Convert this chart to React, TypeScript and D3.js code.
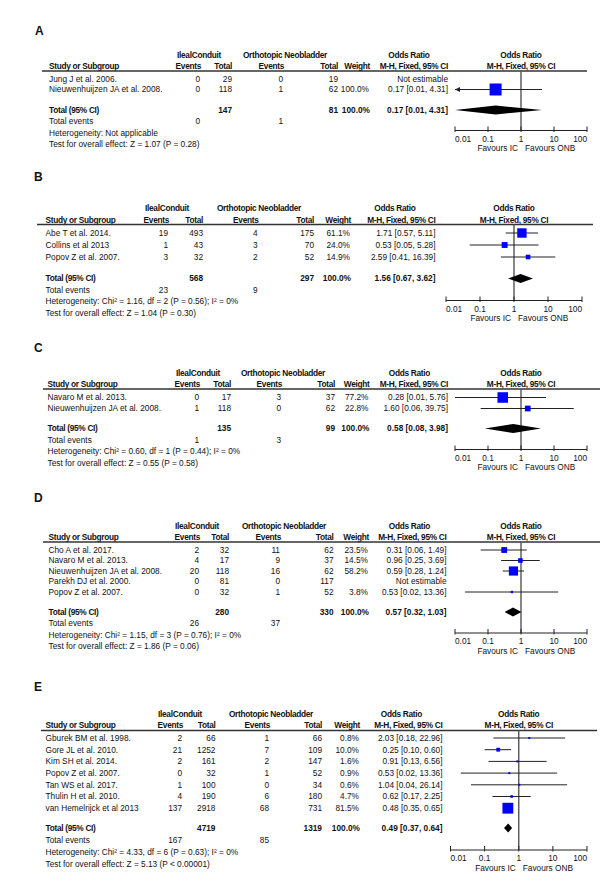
import React from 'react';
import * as d3 from 'd3';

// ---------- Panel A ----------
const studiesA = ['Jung J et al. 2006.', 'Nieuwenhuijzen JA et al. 2008.'];
const icEventsA = [0, 0];
const icTotalA = [29, 118];
const onbEventsA = [0, 1];
const onbTotalA = [19, 62];
const weightA = [NaN, 100.0];
const orA = [NaN, 0.17];
const loA = [NaN, 0.007];
const hiA = [NaN, 4.31];
const totalsA = [147, 81];
const totalOrA = [0.17, 0.01, 4.31];
const totalEventsA = [0, 1];
const hetA = 'Heterogeneity: Not applicable';
const testA = 'Test for overall effect: Z = 1.07 (P = 0.28)';

// ---------- Panel B ----------
const studiesB = ['Abe T et al. 2014.', 'Collins et al 2013', 'Popov Z et al. 2007.'];
const icEventsB = [19, 1, 3];
const icTotalB = [493, 43, 32];
const onbEventsB = [4, 3, 2];
const onbTotalB = [175, 70, 52];
const weightB = [61.1, 24.0, 14.9];
const orB = [1.71, 0.53, 2.59];
const loB = [0.57, 0.05, 0.41];
const hiB = [5.11, 5.28, 16.39];
const totalsB = [568, 297];
const totalOrB = [1.56, 0.67, 3.62];
const totalEventsB = [23, 9];
const hetB = 'Heterogeneity: Chi² = 1.16, df = 2 (P = 0.56); I² = 0%';
const testB = 'Test for overall effect: Z = 1.04 (P = 0.30)';

// ---------- Panel C ----------
const studiesC = ['Navaro M et al. 2013.', 'Nieuwenhuijzen JA et al. 2008.'];
const icEventsC = [0, 1];
const icTotalC = [17, 118];
const onbEventsC = [3, 0];
const onbTotalC = [37, 62];
const weightC = [77.2, 22.8];
const orC = [0.28, 1.60];
const loC = [0.01, 0.06];
const hiC = [5.76, 39.75];
const totalsC = [135, 99];
const totalOrC = [0.58, 0.08, 3.98];
const totalEventsC = [1, 3];
const hetC = 'Heterogeneity: Chi² = 0.60, df = 1 (P = 0.44); I² = 0%';
const testC = 'Test for overall effect: Z = 0.55 (P = 0.58)';

// ---------- Panel D ----------
const studiesD = ['Cho A et al. 2017.', 'Navaro M et al. 2013.', 'Nieuwenhuijzen JA et al. 2008.', 'Parekh DJ et al. 2000.', 'Popov Z et al. 2007.'];
const icEventsD = [2, 4, 20, 0, 0];
const icTotalD = [32, 17, 118, 81, 32];
const onbEventsD = [11, 9, 16, 0, 1];
const onbTotalD = [62, 37, 62, 117, 52];
const weightD = [23.5, 14.5, 58.2, NaN, 3.8];
const orD = [0.31, 0.96, 0.59, NaN, 0.53];
const loD = [0.06, 0.25, 0.28, NaN, 0.02];
const hiD = [1.49, 3.69, 1.24, NaN, 13.36];
const totalsD = [280, 330];
const totalOrD = [0.57, 0.32, 1.03];
const totalEventsD = [26, 37];
const hetD = 'Heterogeneity: Chi² = 1.15, df = 3 (P = 0.76); I² = 0%';
const testD = 'Test for overall effect: Z = 1.86 (P = 0.06)';

// ---------- Panel E ----------
const studiesE = ['Gburek BM et al. 1998.', 'Gore JL et al. 2010.', 'Kim SH et al. 2014.', 'Popov Z et al. 2007.', 'Tan WS et al. 2017.', 'Thulin H et al. 2010.', 'van Hemelrijck et al 2013'];
const icEventsE = [2, 21, 2, 0, 1, 4, 137];
const icTotalE = [66, 1252, 161, 32, 100, 190, 2918];
const onbEventsE = [1, 7, 2, 1, 0, 6, 68];
const onbTotalE = [66, 109, 147, 52, 34, 180, 731];
const weightE = [0.8, 10.0, 1.6, 0.9, 0.6, 4.7, 81.5];
const orE = [2.03, 0.25, 0.91, 0.53, 1.04, 0.62, 0.48];
const loE = [0.18, 0.10, 0.13, 0.02, 0.04, 0.17, 0.35];
const hiE = [22.96, 0.60, 6.56, 13.36, 26.14, 2.25, 0.65];
const totalsE = [4719, 1319];
const totalOrE = [0.49, 0.37, 0.64];
const totalEventsE = [167, 85];
const hetE = 'Heterogeneity: Chi² = 4.33, df = 6 (P = 0.63); I² = 0%';
const testE = 'Test for overall effect: Z = 5.13 (P < 0.00001)';

const axisTicks = [0.01, 0.1, 1, 10, 100];
const axisTickLabels = ['0.01', '0.1', '1', '10', '100'];
const favours = ['Favours IC', 'Favours ONB'];

const panels = [
  { label: 'A', studies: studiesA, icEv: icEventsA, icTot: icTotalA, onbEv: onbEventsA, onbTot: onbTotalA, w: weightA, or: orA, lo: loA, hi: hiA, totals: totalsA, tor: totalOrA, tev: totalEventsA, het: hetA, test: testA,
    L: { labelX: 35, labelY: 31, h1: 55, h2: 66, sep: 71, row0: 79, pitch: 10.5, total: 110, fpitch: 11.5, axis: 130.5,
      sepX0: 42, sepX1: 587, study: 49, icEv: 200, icTot: 232, onbEv: 283, onbTot: 338, weight: 369, ci: 448, icHead: 199, onbHead: 285, orHead: 409, px0: 455, px1: 587 } },
  { label: 'B', studies: studiesB, icEv: icEventsB, icTot: icTotalB, onbEv: onbEventsB, onbTot: onbTotalB, w: weightB, or: orB, lo: loB, hi: hiB, totals: totalsB, tor: totalOrB, tev: totalEventsB, het: hetB, test: testB,
    L: { labelX: 34, labelY: 177, h1: 208, h2: 220, sep: 224.5, row0: 233, pitch: 12, total: 278.5, fpitch: 11.5, axis: 300.5,
      sepX0: 37, sepX1: 593, study: 45.5, icEv: 168, icTot: 203, onbEv: 257.5, onbTot: 314, weight: 350, ci: 435.5, icHead: 167, onbHead: 259, orHead: 395, px0: 446, px1: 582 } },
  { label: 'C', studies: studiesC, icEv: icEventsC, icTot: icTotalC, onbEv: onbEventsC, onbTot: onbTotalC, w: weightC, or: orC, lo: loC, hi: hiC, totals: totalsC, tor: totalOrC, tev: totalEventsC, het: hetC, test: testC,
    L: { labelX: 34, labelY: 348, h1: 373, h2: 384, sep: 389, row0: 397.5, pitch: 11, total: 428.5, fpitch: 11.5, axis: 449.5,
      sepX0: 43, sepX1: 600, study: 47.5, icEv: 199, icTot: 231, onbEv: 281, onbTot: 335, weight: 368.5, ci: 448, icHead: 198, onbHead: 283, orHead: 409.5, px0: 455, px1: 587 } },
  { label: 'D', studies: studiesD, icEv: icEventsD, icTot: icTotalD, onbEv: onbEventsD, onbTot: onbTotalD, w: weightD, or: orD, lo: loD, hi: hiD, totals: totalsD, tor: totalOrD, tev: totalEventsD, het: hetD, test: testD,
    L: { labelX: 34, labelY: 498, h1: 526, h2: 537, sep: 542, row0: 550, pitch: 10.5, total: 612, fpitch: 11.5, axis: 633,
      sepX0: 43, sepX1: 600, study: 48.5, icEv: 199, icTot: 229, onbEv: 280, onbTot: 333.5, weight: 368, ci: 446.5, icHead: 197, onbHead: 284, orHead: 409.5, px0: 455, px1: 587 } },
  { label: 'E', studies: studiesE, icEv: icEventsE, icTot: icTotalE, onbEv: onbEventsE, onbTot: onbTotalE, w: weightE, or: orE, lo: loE, hi: hiE, totals: totalsE, tor: totalOrE, tev: totalEventsE, het: hetE, test: testE,
    L: { labelX: 34, labelY: 687, h1: 714, h2: 725.5, sep: 730.5, row0: 738, pitch: 11.7, total: 828, fpitch: 12, axis: 850,
      sepX0: 41, sepX1: 597, study: 45.5, icEv: 182, icTot: 215.5, onbEv: 269, onbTot: 322, weight: 359, ci: 442.5, icHead: 180, onbHead: 271, orHead: 401.5, px0: 450.5, px1: 587 } },
];

const FONT = '"Liberation Sans", Arial, sans-serif';
const FS = 8.3;
const f2 = (v: number) => v.toFixed(2);

function T({ x, y, children, anchor = 'start', bold = false, size = FS, ls = 0 }: any) {
  return (
    <text x={x} y={y + size * 0.35} textAnchor={anchor} fontFamily={FONT} fontSize={size}
      fontWeight={bold ? 'bold' : 'normal'} letterSpacing={ls} fill="#111">{children}</text>
  );
}

function Panel({ p }: any) {
  const L = p.L;
  const x = d3.scaleLog().domain([0.01, 100]).range([L.px0, L.px1]);
  const pc = (L.px0 + L.px1) / 2;
  const rowY = (i: number) => L.row0 + i * L.pitch;
  const te = L.total + L.fpitch;
  const het = te + L.fpitch;
  const test = het + L.fpitch;
  const hb = { bold: true, ls: -0.3 };
  const boxSize = d3.scaleSqrt().domain([0, 100]).range([0, 12]);
  const [tor, tlo, thi] = p.tor;
  const dh = 4.5;
  return (
    <g>
      <T x={L.labelX} y={L.labelY} bold size={12}>{p.label}</T>
      {/* headers */}
      <T x={L.icHead} y={L.h1} anchor="middle" {...hb}>IlealConduit</T>
      <T x={L.onbHead} y={L.h1} anchor="middle" {...hb}>Orthotopic Neobladder</T>
      <T x={L.orHead} y={L.h1} anchor="middle" {...hb}>Odds Ratio</T>
      <T x={pc} y={L.h1} anchor="middle" {...hb}>Odds Ratio</T>
      <T x={L.study} y={L.h2} {...hb}>Study or Subgroup</T>
      <T x={L.icEv + 1} y={L.h2} anchor="end" {...hb}>Events</T>
      <T x={L.icTot} y={L.h2} anchor="end" {...hb}>Total</T>
      <T x={L.onbEv + 1} y={L.h2} anchor="end" {...hb}>Events</T>
      <T x={L.onbTot} y={L.h2} anchor="end" {...hb}>Total</T>
      <T x={L.weight + 1} y={L.h2} anchor="end" {...hb}>Weight</T>
      <T x={L.ci} y={L.h2} anchor="end" {...hb}>M-H, Fixed, 95% CI</T>
      <T x={pc} y={L.h2} anchor="middle" {...hb}>M-H, Fixed, 95% CI</T>
      <line x1={L.sepX0} x2={L.sepX1} y1={L.sep} y2={L.sep} stroke="#333" strokeWidth={1.3} />
      {/* vertical line of no effect */}
      <line x1={x(1)} x2={x(1)} y1={L.sep} y2={L.axis} stroke="#555" strokeWidth={1.4} />
      {/* study rows */}
      {p.studies.map((s: string, i: number) => {
        const y = rowY(i);
        const est = !isNaN(p.or[i]);
        const lo = p.lo[i], hi = p.hi[i];
        const sz = est ? Math.max(2, boxSize(p.w[i])) : 0;
        return (
          <g key={i}>
            <T x={L.study} y={y}>{s}</T>
            <T x={L.icEv} y={y} anchor="end">{p.icEv[i]}</T>
            <T x={L.icTot} y={y} anchor="end">{p.icTot[i]}</T>
            <T x={L.onbEv} y={y} anchor="end">{p.onbEv[i]}</T>
            <T x={L.onbTot} y={y} anchor="end">{p.onbTot[i]}</T>
            {est && <T x={L.weight} y={y} anchor="end">{p.w[i].toFixed(1)}%</T>}
            <T x={L.ci} y={y} anchor="end">{est ? `${f2(p.or[i])} [${f2(lo)}, ${f2(hi)}]` : 'Not estimable'}</T>
            {est && (
              <g>
                <line x1={x(Math.max(lo, 0.01))} x2={x(Math.min(hi, 100))} y1={y} y2={y} stroke="#222" strokeWidth={1} />
                {lo < 0.01 && (
                  <path d={`M${x(0.01)},${y} l5,-2.5 l0,5 Z`} fill="#222" />
                )}
                <rect x={x(p.or[i]) - sz / 2} y={y - sz / 2} width={sz} height={sz} fill="#0000ff" />
              </g>
            )}
          </g>
        );
      })}
      {/* total */}
      <T x={L.study} y={L.total} {...hb}>Total (95% CI)</T>
      <T x={L.icTot} y={L.total} anchor="end" bold>{p.totals[0]}</T>
      <T x={L.onbTot} y={L.total} anchor="end" bold>{p.totals[1]}</T>
      <T x={L.weight + 1} y={L.total} anchor="end" bold>100.0%</T>
      <T x={L.ci} y={L.total} anchor="end" bold>{`${f2(tor)} [${f2(tlo)}, ${f2(thi)}]`}</T>
      <path d={`M${x(tlo)},${L.total} L${x(tor)},${L.total - dh} L${x(thi)},${L.total} L${x(tor)},${L.total + dh} Z`} fill="#000" />
      <T x={L.study} y={te}>Total events</T>
      <T x={L.icEv} y={te} anchor="end">{p.tev[0]}</T>
      <T x={L.onbEv} y={te} anchor="end">{p.tev[1]}</T>
      <T x={L.study} y={het}>{p.het}</T>
      <T x={L.study} y={test}>{p.test}</T>
      {/* axis */}
      <line x1={L.px0} x2={L.px1} y1={L.axis} y2={L.axis} stroke="#222" strokeWidth={1} />
      {axisTicks.map((t, i) => (
        <g key={t}>
          <line x1={x(t)} x2={x(t)} y1={L.axis - 4} y2={L.axis + 1.5} stroke="#222" strokeWidth={1} />
          <T x={x(t)} y={L.axis + 8.5} anchor={i === 0 ? 'start' : i === axisTicks.length - 1 ? 'end' : 'middle'}>{axisTickLabels[i]}</T>
        </g>
      ))}
      <T x={x(1) - 3} y={L.axis + 18} anchor="end">{favours[0]}</T>
      <T x={x(1) + 4} y={L.axis + 18}>{favours[1]}</T>
    </g>
  );
}

export default function App() {
  return (
    <svg width={611} height={896} style={{ position: 'absolute', left: 0, top: 0, background: '#fff' }}>
      <rect width={611} height={896} fill="#fff" />
      {panels.map((p) => <Panel key={p.label} p={p} />)}
    </svg>
  );
}
